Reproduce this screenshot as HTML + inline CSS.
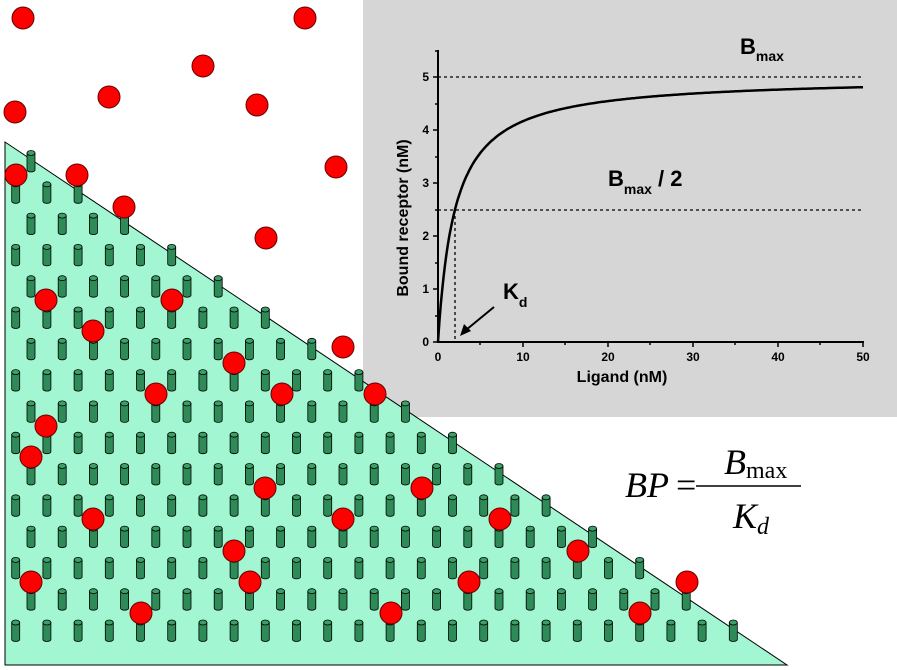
<!DOCTYPE html>
<html><head><style>
html,body{margin:0;padding:0;background:#fff;}
svg{display:block;}
</style></head><body>
<svg id="s" width="897" height="670" xmlns="http://www.w3.org/2000/svg" font-family="Liberation Sans, Arial, sans-serif">
<rect x="363" y="0" width="534" height="417" fill="#d6d6d6"/>
<g id="chart">
<line x1="438" y1="50" x2="438" y2="342" stroke="#000" stroke-width="2"/>
<line x1="437" y1="342" x2="864" y2="342" stroke="#000" stroke-width="2"/>
<g stroke="#000" stroke-width="1.5">
<line x1="433" y1="342" x2="438" y2="342"/><line x1="433" y1="289" x2="438" y2="289"/><line x1="433" y1="236" x2="438" y2="236"/><line x1="433" y1="183" x2="438" y2="183"/><line x1="433" y1="130" x2="438" y2="130"/><line x1="433" y1="77" x2="438" y2="77"/>
<line x1="435" y1="316" x2="438" y2="316"/><line x1="435" y1="263" x2="438" y2="263"/><line x1="435" y1="210" x2="438" y2="210"/><line x1="435" y1="157" x2="438" y2="157"/><line x1="435" y1="104" x2="438" y2="104"/><line x1="435" y1="51" x2="438" y2="51"/>
<line x1="523" y1="342" x2="523" y2="347"/><line x1="608" y1="342" x2="608" y2="347"/><line x1="693" y1="342" x2="693" y2="347"/><line x1="778" y1="342" x2="778" y2="347"/><line x1="863" y1="342" x2="863" y2="347"/>
<line x1="480" y1="342" x2="480" y2="345"/><line x1="565" y1="342" x2="565" y2="345"/><line x1="650" y1="342" x2="650" y2="345"/><line x1="735" y1="342" x2="735" y2="345"/><line x1="820" y1="342" x2="820" y2="345"/>
</g>
<g font-size="12" font-weight="bold" text-anchor="end">
<text x="429" y="346">0</text><text x="429" y="293">1</text><text x="429" y="240">2</text><text x="429" y="187">3</text><text x="429" y="134">4</text><text x="429" y="81">5</text>
</g>
<g font-size="12" font-weight="bold" text-anchor="middle">
<text x="438" y="361">0</text><text x="523" y="361">10</text><text x="608" y="361">20</text><text x="693" y="361">30</text><text x="778" y="361">40</text><text x="863" y="361">50</text>
</g>
<text x="622" y="382" font-size="16" font-weight="bold" text-anchor="middle">Ligand (nM)</text>
<text transform="translate(408,218) rotate(-90)" font-size="16" font-weight="bold" text-anchor="middle">Bound receptor (nM)</text>
<line x1="438" y1="77" x2="863" y2="77" stroke="#000" stroke-width="1.3" stroke-dasharray="3,3"/>
<line x1="438" y1="210" x2="863" y2="210" stroke="#000" stroke-width="1.3" stroke-dasharray="3,3"/>
<line x1="455" y1="210" x2="455" y2="342" stroke="#000" stroke-width="1.3" stroke-dasharray="3,3"/>
<path id="curve" fill="none" stroke="#000" stroke-width="2.5"/>
<text x="740" y="54" font-size="22" font-weight="bold">B<tspan font-size="14" dy="7">max</tspan></text>
<text x="608" y="186" font-size="22" font-weight="bold">B<tspan font-size="14" dy="8">max</tspan><tspan dy="-8"> / 2</tspan></text>
<text x="503" y="299" font-size="22" font-weight="bold">K<tspan font-size="14" dy="8">d</tspan></text>
<line x1="494" y1="307" x2="466" y2="330" stroke="#000" stroke-width="2"/>
<polygon points="460,336 464,324 471,331" fill="#000"/>
</g>
<polygon points="5,142 5,665 787,665" fill="#a2f6d2" stroke="#000" stroke-width="1"/>
<g id="cyl"></g>
<g id="balls"></g>
<g font-family="Liberation Serif, Times New Roman, serif" font-style="italic">
<text x="625" y="497" font-size="36">BP</text>
<text x="676" y="497" font-size="36" font-style="normal">=</text>
<line x1="696" y1="486" x2="801" y2="486" stroke="#000" stroke-width="1.5"/>
<text x="724" y="474" font-size="36">B<tspan font-style="normal" font-size="24" dy="4">max</tspan></text>
<text x="733" y="528" font-size="36">K<tspan font-size="24" dy="6">d</tspan></text>
</g>
</svg>
<script>
(function(){
var d="";for(var i=0;i<=300;i++){var x=i/6;var y=5*x/(2+x);var px=438+x*8.5,py=342-y*53;d+=(i?"L":"M")+px.toFixed(1)+","+py.toFixed(1);}
document.getElementById("curve").setAttribute("d",d);
var cg=document.getElementById("cyl");
function lineY(x){return 142+(x-5)*(523/782);}
var h="";
for(var r=0;r<16;r++){
 var ty=150+r*31.3, by=ty+22, off=(r%2==0)?31:15.7;
 for(var k=0;k<30;k++){
  var x=off+k*31.2; if(x>790)break;
  if(by<lineY(x))continue;
  h+='<path d="M'+(x-4)+','+(ty+3)+' L'+(x-4)+','+(by-2)+' A4,2 0 0 0 '+(x+4)+','+(by-2)+' L'+(x+4)+','+(ty+3)+' Z" fill="#2e8b57" stroke="#000" stroke-width="0.8"/>';
  h+='<ellipse cx="'+x+'" cy="'+(ty+3)+'" rx="4" ry="2.5" fill="#3aa068" stroke="#000" stroke-width="0.8"/>';
 }
}
cg.innerHTML=h;
var b=[[23,18],[305,18],[203,66],[15,112],[109,97],[257,105],[336,167],[16,175],[77,175],[124,207],[266,238],[46,300],[172,300],[93,331],[343,347],[234,363],[156,394],[282,394],[375,394],[46,426],[31,457],[265,488],[422,488],[93,519],[343,519],[500,519],[234,551],[578,551],[31,582],[250,582],[469,582],[687,582],[141,613],[391,613],[640,613]];
var bh="";b.forEach(function(p){bh+='<circle cx="'+p[0]+'" cy="'+p[1]+'" r="11" fill="#ff0000" stroke="#600" stroke-width="1"/>';});
document.getElementById("balls").innerHTML=bh;
})();
</script>
</body></html>
